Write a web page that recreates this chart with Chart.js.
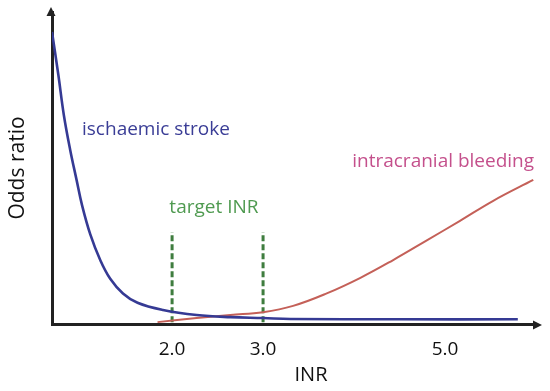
<!DOCTYPE html>
<html>
<head>
<meta charset="utf-8">
<script src="https://cdn.jsdelivr.net/npm/chart.js@4"></script>
<style>
  html, body { margin: 0; padding: 0; background: #fff; }
  #wrap { width: 550px; height: 391px; }
</style>
</head>
<body>
<div id="wrap"><canvas id="myChart" width="550" height="391"></canvas></div>
<script>
// --- Data ---
const xTicks = [2, 3, 5];

const inrStroke = [0.68, 0.75, 0.81, 0.88, 0.95, 1.01, 1.10, 1.21, 1.32, 1.46, 1.62, 1.90, 2.27, 2.64, 3.0, 3.3, 4.5, 5.8];
const oddsStroke = [9.36, 7.98, 6.70, 5.58, 4.62, 3.81, 2.88, 2.05, 1.45, 0.98, 0.68, 0.45, 0.29, 0.22, 0.19, 0.16, 0.15, 0.15];

const inrBleed = [1.84, 2.27, 2.64, 3.0, 3.33, 3.7, 4.07, 4.43, 4.8, 5.16, 5.53, 5.97];
const oddsBleed = [0.06, 0.19, 0.29, 0.38, 0.58, 0.98, 1.48, 2.05, 2.68, 3.3, 3.95, 4.62];

const targetInr = [2, 3];
const targetRange = [0.06, 2.95];

// text labels: [text, inr, odds, color]
const labels = [
    ['ischaemic stroke', 1.01, 6.22, '#3a3d96'],
    ['target INR', 1.97, 3.72, '#4f9a50'],
    ['intracranial bleeding', 3.98, 5.19, '#c4508c']
];

const FONT = '"Open Sans", "Noto Sans", sans-serif';

function toPoints(xs, ys) {
    return xs.map((x, i) => ({ x: x, y: ys[i] }));
}

const targetSets = targetInr.map(v => ({
    data: targetRange.map(y => ({ x: v, y: y })),
    borderColor: '#3f7d3f',
    borderWidth: 3,
    borderDash: [6, 3],
    pointRadius: 0,
    fill: false
}));

// arrows, curve labels and x title
const decorPlugin = {
    id: 'decor',
    afterDraw(chart) {
        const c = chart.ctx;
        const a = chart.chartArea;
        const xs = chart.scales.x;
        const ys = chart.scales.y;
        c.save();
        c.fillStyle = '#222';
        // y arrow
        c.beginPath();
        c.moveTo(a.left - 1, a.top - 5);
        c.lineTo(a.left - 5.5, a.top + 4);
        c.lineTo(a.left + 3.5, a.top + 4);
        c.closePath();
        c.fill();
        // x arrow
        c.beginPath();
        c.moveTo(a.right + 6, a.bottom + 1);
        c.lineTo(a.right - 3, a.bottom - 3.5);
        c.lineTo(a.right - 3, a.bottom + 5.5);
        c.closePath();
        c.fill();

        c.font = '19px ' + FONT;
        c.textBaseline = 'middle';
        c.textAlign = 'left';
        labels.forEach(l => {
            c.fillStyle = l[3];
            c.fillText(l[0], xs.getPixelForValue(l[1]), ys.getPixelForValue(l[2]));
        });

        c.fillStyle = '#111';
        c.font = '20px ' + FONT;
        c.textAlign = 'center';
        c.fillText('INR', 311, 375);
        c.restore();
    }
};

const ctx = document.getElementById('myChart').getContext('2d');
const myChart = new Chart(ctx, {
    type: 'line',
    data: {
        datasets: [
            {
                data: toPoints(inrStroke, oddsStroke),
                borderColor: '#353a94',
                borderWidth: 2.6,
                pointRadius: 0,
                tension: 0.4,
                fill: false
            },
            {
                data: toPoints(inrBleed, oddsBleed),
                borderColor: '#c46058',
                borderWidth: 2,
                pointRadius: 0,
                tension: 0.4,
                fill: false
            },
            ...targetSets
        ]
    },
    options: {
        responsive: false,
        animation: false,
        layout: { padding: { top: 12, right: 14, left: 0, bottom: 0 } },
        plugins: {
            legend: { display: false },
            tooltip: { enabled: false }
        },
        scales: {
            x: {
                type: 'linear',
                min: 0.68,
                max: 6.0,
                afterBuildTicks: s => { s.ticks = xTicks.map(v => ({ value: v })); },
                afterFit: s => { s.height = 67; },
                ticks: {
                    color: '#111',
                    font: { family: FONT, size: 19 },
                    padding: 14,
                    callback: v => v.toFixed(1)
                },
                grid: { display: false, drawTicks: false },
                border: { color: '#222', width: 3 }
            },
            y: {
                min: 0,
                max: 10,
                afterFit: s => { s.width = 52; },
                ticks: { display: false },
                grid: { display: false, drawTicks: false },
                border: { color: '#222', width: 3 },
                title: {
                    display: true,
                    text: 'Odds ratio',
                    color: '#111',
                    font: { family: FONT, size: 21 },
                    padding: { top: 5, bottom: 0 }
                }
            }
        }
    },
    plugins: [decorPlugin]
});
</script>
</body>
</html>
